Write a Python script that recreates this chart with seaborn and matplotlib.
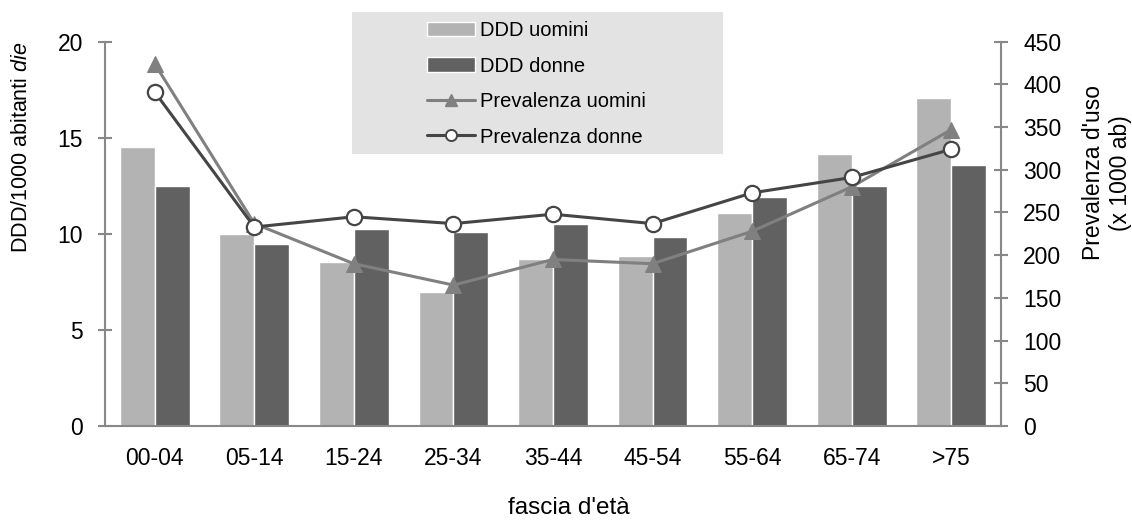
import numpy as np
import pandas as pd
import matplotlib
matplotlib.use('Agg')
import matplotlib.pyplot as plt
from matplotlib.patches import Patch, Rectangle
from matplotlib.lines import Line2D
import seaborn as sns

# Data
fasce = ['00-04', '05-14', '15-24', '25-34', '35-44', '45-54', '55-64', '65-74', '>75']
ddd_uomini = [14.5, 9.98, 8.52, 6.99, 8.68, 8.85, 11.1, 14.14, 17.09]
ddd_donne = [12.51, 9.49, 10.25, 10.11, 10.5, 9.82, 11.93, 12.47, 13.6]
prev_uomini = [424, 237, 190, 165, 195, 190, 228, 280, 347]
prev_donne = [391, 233, 245, 237, 248, 237, 273, 291, 324]

sns.set_style('white')
plt.rcParams['font.family'] = ['Liberation Sans', 'DejaVu Sans']
plt.rcParams['mathtext.fontset'] = 'custom'
plt.rcParams['mathtext.rm'] = 'Liberation Sans'
plt.rcParams['mathtext.it'] = 'Liberation Sans:italic'
plt.rcParams['text.color'] = 'black'
plt.rcParams['xtick.labelcolor'] = 'black'
plt.rcParams['ytick.labelcolor'] = 'black'

c_bar_u = '#b3b3b3'
c_bar_d = '#616161'
c_line_u = '#808080'
c_line_d = '#454545'
c_axis = '#888888'

df = pd.DataFrame({
    'fascia': fasce * 2,
    'sesso': ['DDD uomini'] * len(fasce) + ['DDD donne'] * len(fasce),
    'DDD': ddd_uomini + ddd_donne,
})

fig = plt.figure(figsize=(11.32, 5.2), dpi=100)
W, H = 1132, 520
ax = fig.add_axes([105 / W, 1 - 426 / H, (1001 - 105) / W, (426 - 41.7) / H])

sns.barplot(data=df, x='fascia', y='DDD', hue='sesso', order=fasce,
            palette=[c_bar_u, c_bar_d], width=0.7, edgecolor='white',
            linewidth=1, legend=False, ax=ax)

ax2 = ax.twinx()
xpos = np.arange(len(fasce))
sns.lineplot(x=xpos, y=prev_uomini, ax=ax2, color=c_line_u, linewidth=2.2,
             marker='^', markersize=12, markeredgecolor=c_line_u,
             markerfacecolor=c_line_u)
sns.lineplot(x=xpos, y=prev_donne, ax=ax2, color=c_line_d, linewidth=2.2,
             marker='o', markersize=11, markeredgecolor=c_line_d,
             markerfacecolor='white', markeredgewidth=1.6)

ax.set_xlim(-0.5, len(fasce) - 0.5)
ax.set_ylim(0, 20)
ax.set_yticks([0, 5, 10, 15, 20])
ax2.set_ylim(0, 450)
ax2.set_yticks(np.arange(0, 451, 50))

ax.set_xlabel('')
ax.set_ylabel('')
ax2.set_ylabel('')
ax.set_xticks(xpos)
ax.set_xticklabels(fasce)
ax.set_xticks(np.arange(-0.5, len(fasce)), minor=True)

for a in (ax, ax2):
    a.spines['top'].set_visible(False)
    for s in a.spines.values():
        s.set_color(c_axis)
        s.set_linewidth(1.5)
ax.spines['right'].set_visible(False)
ax2.spines['left'].set_visible(False)
ax2.spines['bottom'].set_visible(False)

ax.tick_params(axis='x', which='major', length=0, pad=15, labelsize=16.5)
ax.tick_params(axis='x', which='minor', direction='inout', length=9,
               width=1.5, color=c_axis)
ax.tick_params(axis='y', direction='inout', length=10, width=1.5,
               color=c_axis, labelsize=16.5, pad=11, left=True)
ax2.tick_params(axis='y', direction='inout', length=10, width=1.5,
                color=c_axis, labelsize=16.5, pad=11, right=True)

# axis titles
fig.text(569 / W, 1 - 508 / H, "fascia d'età", ha='center', va='center', fontsize=17.5)
fig.text(22 / W, 1 - 147 / H, 'DDD/1000 abitanti $\\mathit{die}$', rotation=90,
         ha='center', va='center', fontsize=15.5)
fig.text(1107 / W, 1 - 173 / H, "Prevalenza d'uso\n(x 1000 ab)", rotation=90,
         ha='center', va='center', multialignment='center', fontsize=16.5,
         linespacing=1.2)

# legend box
fig.add_artist(Rectangle((352 / W, 1 - 154 / H), (723 - 352) / W, (154 - 12) / H,
                         transform=fig.transFigure, facecolor='#e3e3e3',
                         edgecolor='none', zorder=1))
handles = [
    Patch(facecolor=c_bar_u, edgecolor='white', linewidth=1),
    Patch(facecolor=c_bar_d, edgecolor='white', linewidth=1),
    Line2D([], [], color=c_line_u, linewidth=2.2, marker='^', markersize=8,
           markerfacecolor=c_line_u, markeredgecolor=c_line_u),
    Line2D([], [], color=c_line_d, linewidth=2.2, marker='o', markersize=8,
           markerfacecolor='white', markeredgecolor=c_line_d, markeredgewidth=1.4),
]
labels = ['DDD uomini', 'DDD donne', 'Prevalenza uomini', 'Prevalenza donne']
leg = fig.legend(handles, labels, loc='upper left',
                 bbox_to_anchor=(427 / W, 1 - 21 / H), bbox_transform=fig.transFigure,
                 frameon=False, fontsize=14.5, handlelength=2.4, handletextpad=0.25,
                 labelspacing=0.82, borderpad=0, borderaxespad=0)
leg.set_zorder(5)

fig.savefig('out.png', dpi=100)
